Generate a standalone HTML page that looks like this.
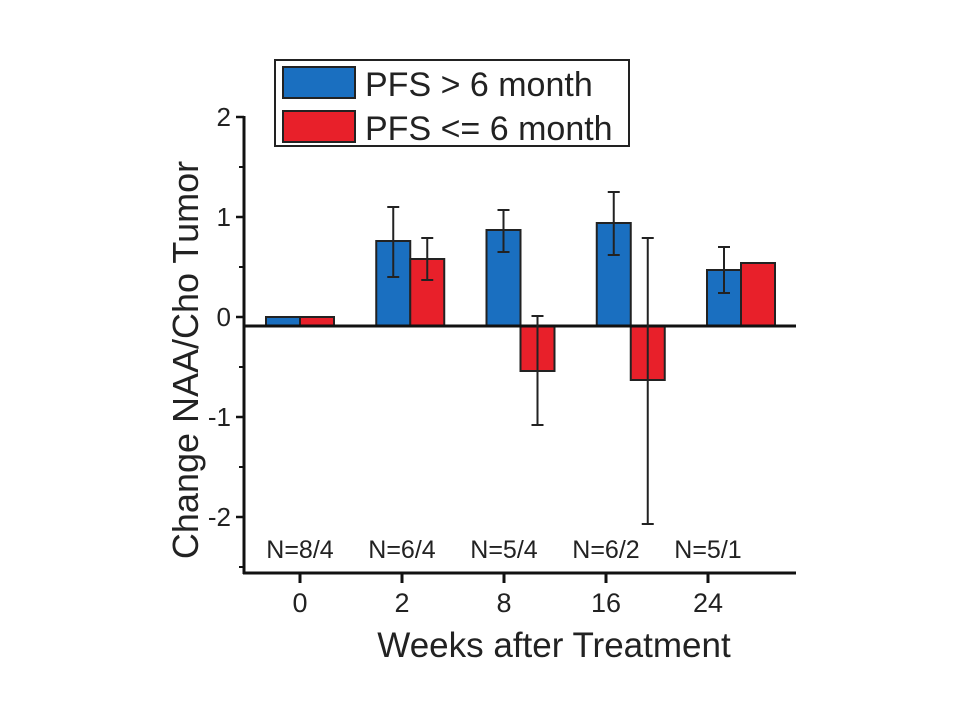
<!DOCTYPE html>
<html><head><meta charset="utf-8"><style>
body{margin:0;background:#fff;width:960px;height:720px;overflow:hidden}
text{font-family:"Liberation Sans",sans-serif;fill:#222}
</style></head><body>
<svg width="960" height="720">
<g id="plot"></g>
</svg>
<script>
const categories=["0","2","8","16","24"];
const nLabels=["N=8/4","N=6/4","N=5/4","N=6/2","N=5/1"];
const blueVals=[0,0.76,0.87,0.94,0.47];
const blueErrLo=[0,0.40,0.65,0.62,0.24];
const blueErrHi=[0,1.10,1.07,1.25,0.70];
const redVals=[0,0.58,-0.54,-0.63,0.54];
const redErrLo=[0,0.37,-1.08,-2.07,0.54];
const redErrHi=[0,0.79,0.01,0.79,0.54];
const yTicks=[2,1,0,-1,-2];
const yMinor=[1.5,0.5,-0.5,-1.5,-2.5];
const baseline=-0.09;

const NS="http://www.w3.org/2000/svg";
const g=document.getElementById('plot');
function y(v){return 317-100*v;}
function barX(i){return 266+110.25*i;}
function tickX(i){return 300+102*i;}
function el(t,a,p){const e=document.createElementNS(NS,t);for(const k in a)e.setAttribute(k,a[k]);(p||g).appendChild(e);return e;}

let e=el('line',{x1:244,y1:116,x2:244,y2:574,stroke:'#111','stroke-width':3});


e=el('line',{x1:243,y1:573,x2:796,y2:573,stroke:'#111','stroke-width':3});


yTicks.forEach(v=>{
  el('line',{x1:236,y1:y(v),x2:244,y2:y(v),stroke:'#111','stroke-width':2.5});
  const t=el('text',{x:231,y:y(v)+9,'text-anchor':'end','font-size':26});
  t.textContent=v;
  
  
});
yMinor.forEach(v=>{el('line',{x1:239,y1:y(v),x2:244,y2:y(v),stroke:'#111','stroke-width':2});});
categories.forEach((c,i)=>{
  el('line',{x1:tickX(i),y1:573,x2:tickX(i),y2:583,stroke:'#111','stroke-width':3});
  let t=el('text',{x:tickX(i),y:612,'text-anchor':'middle','font-size':27});
  t.textContent=c;
  
  
  t=el('text',{x:tickX(i),y:558,'text-anchor':'middle','font-size':25});
  t.textContent=nLabels[i];
  
  
});
function bar(x,v,col,name){
  const y0=y(baseline),y1=y(v);
  const r=el('rect',{x:x,y:Math.min(y0,y1),width:34,height:Math.abs(y1-y0),fill:col,stroke:'#222','stroke-width':2});
  
  
}
function err(x,lo,hi){
  if(Math.abs(hi-lo)<0.001)return;
  el('line',{x1:x,y1:y(hi),x2:x,y2:y(lo),stroke:'#222','stroke-width':2});
  el('line',{x1:x-6,y1:y(hi),x2:x+6,y2:y(hi),stroke:'#222','stroke-width':2});
  el('line',{x1:x-6,y1:y(lo),x2:x+6,y2:y(lo),stroke:'#222','stroke-width':2});
}
categories.forEach((c,i)=>{
  bar(barX(i),blueVals[i],'#1a6fc0','bar-blue-week-'+c);
  bar(barX(i)+34,redVals[i],'#e8202a','bar-red-week-'+c);
});
e=el('line',{x1:244,y1:y(baseline),x2:796,y2:y(baseline),stroke:'#111','stroke-width':3});


categories.forEach((c,i)=>{
  err(barX(i)+17,blueErrLo[i],blueErrHi[i]);
  err(barX(i)+51,redErrLo[i],redErrHi[i]);
});
let t=el('text',{x:554,y:657,'text-anchor':'middle','font-size':35});
t.textContent='Weeks after Treatment';


t=el('text',{x:0,y:0,'text-anchor':'middle','font-size':36,transform:'translate(198,360) rotate(-90)'});
t.textContent='Change NAA/Cho Tumor';


const lg=el('g',{});


el('rect',{x:275,y:60,width:354,height:86,fill:'#fff',stroke:'#222','stroke-width':2},lg);
let s=el('rect',{x:283,y:67,width:72,height:31,fill:'#1a6fc0',stroke:'#222','stroke-width':2},lg);


s=el('rect',{x:283,y:111,width:72,height:31,fill:'#e8202a',stroke:'#222','stroke-width':2},lg);


t=el('text',{x:365,y:96,'font-size':34},lg);
t.textContent='PFS > 6 month';


t=el('text',{x:365,y:140,'font-size':34},lg);
t.textContent='PFS <= 6 month';


</script>
</body></html>
